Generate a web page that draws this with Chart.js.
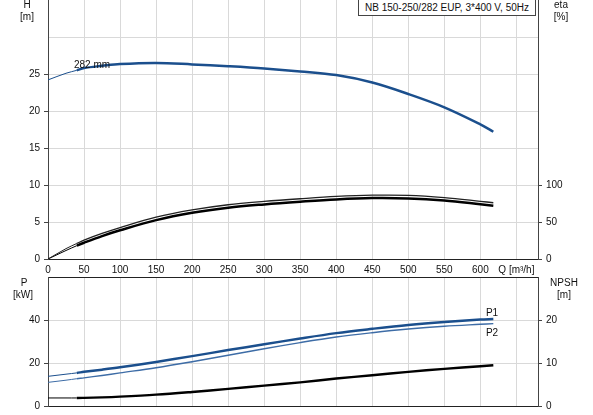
<!DOCTYPE html>
<html>
<head>
<meta charset="utf-8">
<script src="https://cdn.jsdelivr.net/npm/chart.js@4.4.1/dist/chart.umd.min.js"></script>
<style>
    body { margin: 0; background: #fff; width: 593px; height: 415px; overflow: hidden; position: relative; font-family: "Liberation Sans", Arial, sans-serif; }
    canvas { position: absolute; left: 0; }
    #topChart { top: 0; }
    #bottomChart { top: 270px; }
    .lbl { position: absolute; font-size: 10px; line-height: 12px; color: #111; white-space: nowrap; transform: translateX(-50%); }
    .title { position: absolute; left: 358px; top: -1px; width: 176px; height: 15px; border: 1px solid #444; font-size: 10px; line-height: 16px; text-align: center; color: #111; background: #fff; white-space: nowrap; }
</style>
</head>
<body>
<canvas id="topChart" width="593" height="278"></canvas>
<canvas id="bottomChart" width="593" height="145"></canvas>

<div class="title">NB 150-250/282 EUP, 3*400 V, 50Hz</div>
<div class="lbl" style="left:27px; top:-1px;">H</div>
<div class="lbl" style="left:27px; top:11px;">[m]</div>
<div class="lbl" style="left:561px; top:-1px;">eta</div>
<div class="lbl" style="left:561px; top:11px;">[%]</div>
<div class="lbl" style="left:92px; top:59px;">282 mm</div>
<div class="lbl" style="left:24px; top:277px;">P</div>
<div class="lbl" style="left:23px; top:289px;">[kW]</div>
<div class="lbl" style="left:564px; top:277px;">NPSH</div>
<div class="lbl" style="left:564px; top:289px;">[m]</div>
<div class="lbl" style="left:492px; top:307px;">P1</div>
<div class="lbl" style="left:492px; top:327px;">P2</div>

<script>
// flow points, m3/h
const flow = [0, 25, 40, 50, 75, 100, 150, 200, 250, 300, 350, 400, 450, 500, 550, 600, 618];
const flowTicks = [0, 50, 100, 150, 200, 250, 300, 350, 400, 450, 500, 550, 600, 650];

// head, m
const head = [24.2, 25.1, 25.5, 25.8, 26.1, 26.35, 26.5, 26.3, 26.05, 25.75, 25.35, 24.85, 23.85, 22.3, 20.5, 18.2, 17.2];

// efficiency, %
const etaPump = [0, 14, 21, 25.5, 34.5, 42.5, 56.5, 66.3, 73.3, 77.8, 81.4, 84.5, 86.2, 86, 83, 78, 76];
const etaTotal = [0, 11.5, 18, 22, 31, 38.8, 52.5, 62.4, 69.3, 73.8, 77.4, 80.5, 82.3, 81.8, 79, 74, 72];

// power, kW
const powerP1 = [13.8, 14.8, 15.4, 15.9, 16.9, 18, 20.5, 23.2, 26, 28.7, 31.4, 33.9, 35.9, 37.7, 39.1, 40.2, 40.5];
const powerP2 = [11, 12, 12.7, 13.1, 14.2, 15.4, 17.8, 20.6, 23.6, 26.6, 29.5, 32.1, 34.1, 35.8, 37.1, 38, 38.3];

// NPSH, m
const npsh = [1.87, 1.87, 1.87, 1.9, 2.0, 2.17, 2.64, 3.27, 3.97, 4.74, 5.5, 6.38, 7.15, 7.94, 8.64, 9.25, 9.49];

const gridColor = '#d9d9d9';
const axisColor = '#444';
const blue = '#1b4f8d';

Chart.defaults.font.family = '"Liberation Sans", Arial, sans-serif';
Chart.defaults.font.size = 10;
Chart.defaults.color = '#111';

function points(values) {
    return flow.map((q, i) => ({ x: q, y: values[i] }));
}

// no extra room for half labels, plot edges stay where we put them
function noPadding(s) {
    s.paddingTop = 0;
    s.paddingBottom = 0;
    s.paddingLeft = 0;
    s.paddingRight = 0;
}

// curves start thin below 40 m3/h
function curve(values, axis, color, width) {
    return {
        data: points(values),
        yAxisID: axis,
        borderColor: color,
        borderWidth: width,
        pointRadius: 0,
        fill: false,
        tension: 0.35,
        segment: {
            borderWidth: c => c.p1.parsed.x <= 40 ? 1 : width
        }
    };
}

function xScale(showLabels, height) {
    return {
        type: 'linear',
        min: 0,
        max: 680,
        afterBuildTicks: s => { s.ticks = flowTicks.map(v => ({ value: v })); },
        grid: { color: gridColor, drawTicks: false },
        border: { color: '#222' },
        ticks: {
            display: showLabels,
            autoSkip: false,
            maxRotation: 0,
            padding: 5,
            callback: v => v === 650 ? 'Q [m³/h]' : v
        },
        afterFit: s => { s.height = height; noPadding(s); }
    };
}

function sideScale(position, max, step, lastLabel, width, ownGrid) {
    const marks = c => c.tick.value <= lastLabel ? axisColor : 'transparent';
    return {
        type: 'linear',
        position: position,
        min: 0,
        max: max,
        border: { color: axisColor },
        grid: ownGrid ? { color: ownGrid, tickColor: marks, tickLength: 4 }
                      : { drawOnChartArea: false, tickColor: marks, tickLength: 4 },
        ticks: {
            stepSize: step,
            padding: 4,
            callback: v => v <= lastLabel ? v : ''
        },
        afterFit: s => { s.width = width; noPadding(s); }
    };
}

new Chart(document.getElementById('topChart'), {
    type: 'line',
    data: {
        datasets: [
            curve(head, 'h', blue, 2.5),
            curve(etaPump, 'eta', '#222', 1.3),
            curve(etaTotal, 'eta', '#000', 2.5)
        ]
    },
    options: {
        responsive: false,
        animation: false,
        layout: { padding: 0 },
        plugins: { legend: { display: false }, tooltip: { enabled: false } },
        scales: {
            x: xScale(true, 19),
            h: sideScale('left', 35, 5, 25, 48, c => c.tick.value === 35 ? 'transparent' : gridColor),
            eta: sideScale('right', 350, 50, 100, 55, null)
        }
    }
});

new Chart(document.getElementById('bottomChart'), {
    type: 'line',
    data: {
        datasets: [
            curve(powerP1, 'p', blue, 2.5),
            curve(powerP2, 'p', '#3d6ca6', 1.4),
            curve(npsh, 'npsh', '#000', 2.4)
        ]
    },
    options: {
        responsive: false,
        animation: false,
        layout: { padding: { top: 7 } },
        plugins: { legend: { display: false }, tooltip: { enabled: false } },
        scales: {
            x: xScale(false, 9),
            frame: {
                type: 'linear',
                position: 'top',
                min: 0,
                max: 680,
                ticks: { display: false },
                grid: { drawOnChartArea: false, drawTicks: false },
                border: { color: '#222' },
                afterFit: s => { s.height = 0; noPadding(s); }
            },
            p: sideScale('left', 60, 20, 40, 48, c => c.tick.value === 60 ? '#222' : gridColor),
            npsh: sideScale('right', 30, 10, 20, 55, null)
        }
    }
});
</script>
</body>
</html>
